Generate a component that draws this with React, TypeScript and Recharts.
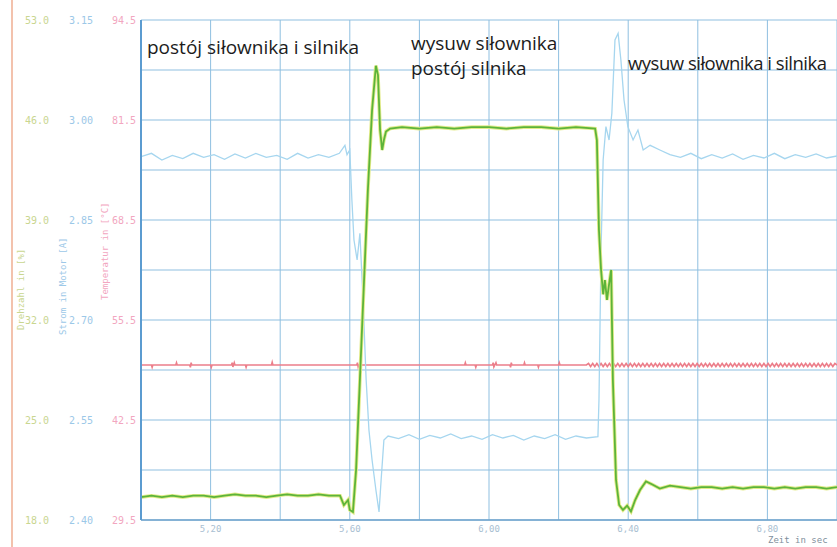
import React from "react";
import {
  LineChart,
  Line,
  XAxis,
  YAxis,
  CartesianGrid,
} from "recharts";

// czas [s] i prędkość silnika (zielona)
const speedPoints: [number, number][] = [
  [5.0, 19.6], [5.03, 19.7], [5.06, 19.6], [5.09, 19.7], [5.12, 19.6], [5.15, 19.7],
  [5.18, 19.7], [5.21, 19.6], [5.24, 19.7], [5.27, 19.8], [5.3, 19.7], [5.33, 19.7],
  [5.36, 19.6], [5.39, 19.7], [5.42, 19.8], [5.45, 19.7], [5.48, 19.7], [5.51, 19.8],
  [5.54, 19.7], [5.572, 19.7], [5.583, 19.05], [5.595, 19.4], [5.6, 18.7], [5.609, 18.56],
  [5.618, 21.5], [5.629, 27.8], [5.641, 34.8], [5.652, 41.1], [5.664, 46.7], [5.675, 49.8],
  [5.681, 49.15], [5.687, 45.3], [5.693, 43.9], [5.698, 44.6], [5.704, 45.2], [5.716, 45.4],
  [5.75, 45.5], [5.8, 45.4], [5.85, 45.5], [5.9, 45.4], [5.95, 45.5], [6.0, 45.5],
  [6.05, 45.4], [6.1, 45.5], [6.15, 45.5], [6.2, 45.4], [6.25, 45.5], [6.305, 45.4],
  [6.31, 44.6], [6.316, 38.3], [6.322, 35.5], [6.328, 33.8], [6.333, 34.8], [6.339, 33.4],
  [6.345, 34.5], [6.351, 35.5], [6.356, 27.8], [6.365, 20.8], [6.374, 19.05], [6.385, 18.7],
  [6.397, 19.0], [6.408, 18.6], [6.42, 19.4], [6.434, 20.1], [6.451, 20.7], [6.468, 20.5],
  [6.491, 20.2], [6.52, 20.4], [6.55, 20.3], [6.58, 20.2], [6.61, 20.3], [6.64, 20.3],
  [6.67, 20.2], [6.7, 20.3], [6.73, 20.2], [6.76, 20.3], [6.79, 20.3], [6.82, 20.2],
  [6.85, 20.3], [6.88, 20.2], [6.91, 20.3], [6.94, 20.3], [6.97, 20.2], [7.0, 20.3],
];

// prąd (niebieska)
const currentPoints: [number, number][] = [
  [5.0, 2.945], [5.03, 2.95], [5.06, 2.94], [5.09, 2.947], [5.12, 2.942], [5.15, 2.95],
  [5.18, 2.944], [5.21, 2.948], [5.24, 2.941], [5.27, 2.949], [5.3, 2.943], [5.33, 2.95],
  [5.36, 2.944], [5.39, 2.947], [5.42, 2.941], [5.45, 2.95], [5.48, 2.943], [5.51, 2.948],
  [5.54, 2.944], [5.57, 2.95], [5.586, 2.962], [5.592, 2.948], [5.6, 2.955], [5.606, 2.88],
  [5.612, 2.82], [5.621, 2.79], [5.629, 2.83], [5.638, 2.73], [5.647, 2.61], [5.655, 2.535],
  [5.664, 2.49], [5.675, 2.445], [5.684, 2.412], [5.69, 2.46], [5.698, 2.52], [5.71, 2.526],
  [5.74, 2.522], [5.77, 2.528], [5.8, 2.521], [5.83, 2.527], [5.86, 2.523], [5.89, 2.529],
  [5.92, 2.522], [5.95, 2.526], [5.98, 2.521], [6.01, 2.528], [6.04, 2.523], [6.07, 2.527],
  [6.1, 2.52], [6.13, 2.526], [6.16, 2.522], [6.19, 2.528], [6.22, 2.521], [6.25, 2.526],
  [6.28, 2.523], [6.313, 2.525], [6.316, 2.58], [6.322, 2.805], [6.328, 2.94], [6.336, 2.99],
  [6.345, 2.97], [6.353, 3.01], [6.362, 3.12], [6.371, 3.13], [6.379, 3.09], [6.388, 3.03],
  [6.399, 2.99], [6.414, 2.97], [6.428, 2.985], [6.443, 2.955], [6.463, 2.962], [6.491, 2.955],
  [6.52, 2.948], [6.55, 2.944], [6.58, 2.95], [6.61, 2.942], [6.64, 2.948], [6.67, 2.943],
  [6.7, 2.949], [6.73, 2.941], [6.76, 2.947], [6.79, 2.943], [6.82, 2.95], [6.85, 2.942],
  [6.88, 2.948], [6.91, 2.944], [6.94, 2.949], [6.97, 2.943], [7.0, 2.946],
];

// temperatura (czerwona)
const tempPoints: [number, number][] = [
  [5.0, 49.65], [5.03, 49.65], [5.032, 49.35], [5.034, 49.65], [5.1, 49.65], [5.102, 49.95],
  [5.104, 49.65], [5.14, 49.65], [5.142, 49.35], [5.144, 49.95], [5.146, 49.65], [5.2, 49.65],
  [5.202, 49.35], [5.204, 49.65], [5.26, 49.65], [5.262, 49.95], [5.264, 49.4], [5.268, 49.95],
  [5.27, 49.65], [5.3, 49.65], [5.302, 49.35], [5.304, 49.65], [5.375, 49.65], [5.377, 50.0],
  [5.379, 49.65], [5.62, 49.65], [5.622, 49.95], [5.624, 49.4], [5.626, 49.65], [5.93, 49.65],
  [5.932, 49.95], [5.934, 49.65], [5.96, 49.65], [5.962, 49.35], [5.964, 49.65], [6.01, 49.65],
  [6.012, 49.95], [6.014, 49.4], [6.02, 49.95], [6.022, 49.65], [6.06, 49.65], [6.062, 49.35],
  [6.064, 49.95], [6.066, 49.65], [6.1, 49.65], [6.102, 49.95], [6.104, 49.65], [6.14, 49.65],
  [6.142, 49.35], [6.144, 49.65], [6.2, 49.65], [6.202, 49.95], [6.204, 49.65], [6.28, 49.65],
  [6.286, 49.85], [6.292, 49.45], [6.298, 49.85], [6.304, 49.45], [6.31, 49.85], [6.316, 49.45],
  [6.322, 49.85], [6.328, 49.45], [6.334, 49.85], [6.34, 49.45], [6.346, 49.85], [6.352, 49.45],
  [6.358, 49.85], [6.364, 49.45], [6.37, 49.85], [6.376, 49.45], [6.382, 49.85], [6.388, 49.45],
  [6.394, 49.85], [6.4, 49.45], [6.406, 49.85], [6.412, 49.45], [6.418, 49.85], [6.424, 49.45],
  [6.43, 49.85], [6.436, 49.45], [6.442, 49.85], [6.448, 49.45], [6.454, 49.85], [6.46, 49.45],
  [6.466, 49.85], [6.472, 49.45], [6.478, 49.85], [6.484, 49.45], [6.49, 49.85], [6.496, 49.45],
  [6.502, 49.85], [6.508, 49.45], [6.514, 49.85], [6.52, 49.45], [6.526, 49.85], [6.532, 49.45],
  [6.538, 49.85], [6.544, 49.45], [6.55, 49.85], [6.556, 49.45], [6.562, 49.85], [6.568, 49.45],
  [6.574, 49.85], [6.58, 49.45], [6.586, 49.85], [6.592, 49.45], [6.598, 49.85], [6.604, 49.45],
  [6.61, 49.85], [6.616, 49.45], [6.622, 49.85], [6.628, 49.45], [6.634, 49.85], [6.64, 49.45],
  [6.646, 49.85], [6.652, 49.45], [6.658, 49.85], [6.664, 49.45], [6.67, 49.85], [6.676, 49.45],
  [6.682, 49.85], [6.688, 49.45], [6.694, 49.85], [6.7, 49.45], [6.706, 49.85], [6.712, 49.45],
  [6.718, 49.85], [6.724, 49.45], [6.73, 49.85], [6.736, 49.45], [6.742, 49.85], [6.748, 49.45],
  [6.754, 49.85], [6.76, 49.45], [6.766, 49.85], [6.772, 49.45], [6.778, 49.85], [6.784, 49.45],
  [6.79, 49.85], [6.796, 49.45], [6.802, 49.85], [6.808, 49.45], [6.814, 49.85], [6.82, 49.45],
  [6.826, 49.85], [6.832, 49.45], [6.838, 49.85], [6.844, 49.45], [6.85, 49.85], [6.856, 49.45],
  [6.862, 49.85], [6.868, 49.45], [6.874, 49.85], [6.88, 49.45], [6.886, 49.85], [6.892, 49.45],
  [6.898, 49.85], [6.904, 49.45], [6.91, 49.85], [6.916, 49.45], [6.922, 49.85], [6.928, 49.45],
  [6.934, 49.85], [6.94, 49.45], [6.946, 49.85], [6.952, 49.45], [6.958, 49.85], [6.964, 49.45],
  [6.97, 49.85], [6.976, 49.45], [6.982, 49.85], [6.988, 49.45], [6.994, 49.85], [7.0, 49.65],
];

const timeTicks = [5.0, 5.2, 5.4, 5.6, 5.8, 6.0, 6.2, 6.4, 6.6, 6.8, 7.0];
const timeLabels = ["", "5,20", "", "5,60", "", "6,00", "", "6,40", "", "6,80", ""];
const speedTicks = [18, 21.5, 25, 28.5, 32, 35.5, 39, 42.5, 46, 49.5, 53];
const currentTicks = [2.4, 2.55, 2.7, 2.85, 3.0, 3.15];
const tempTicks = [29.5, 42.5, 55.5, 68.5, 81.5, 94.5];

const toData = (pts: [number, number][]) => pts.map(([t, v]) => ({ t, v }));

const mono = "'DejaVu Sans Mono', monospace";
const gridBlue = "#8fbfe0";

// osie Y po lewej: Recharts układa je alfabetycznie od wykresu na zewnątrz
const RED = "a_temp";
const BLUE = "b_current";
const GREEN = "c_speed";

const App = () => {
  const speedData = toData(speedPoints);
  const currentData = toData(currentPoints);
  const tempData = toData(tempPoints);

  const note: React.CSSProperties = {
    position: "absolute",
    fontFamily: "'Open Sans', sans-serif",
    fontSize: 19,
    color: "#1c1c1c",
    whiteSpace: "nowrap",
    lineHeight: "25px",
  };
  const axisTitle: React.CSSProperties = {
    position: "absolute",
    fontFamily: mono,
    fontSize: 9,
    whiteSpace: "nowrap",
    transform: "rotate(-90deg)",
    transformOrigin: "left top",
  };

  return (
    <div
      style={{
        position: "absolute",
        left: 0,
        top: 0,
        width: 837,
        height: 547,
        background: "#fff",
        overflow: "hidden",
      }}
    >
      {/* pionowa linia po lewej */}
      <div style={{ position: "absolute", left: 11, top: 0, width: 2, height: 547, background: "#f3c2ad" }} />
      <LineChart
        width={837}
        height={547}
        margin={{ top: 20, right: 0, bottom: 0, left: 0 }}
      >
        <CartesianGrid yAxisId={GREEN} stroke={gridBlue} strokeWidth={1} />
        <XAxis
          dataKey="t"
          type="number"
          domain={[5, 7]}
          ticks={timeTicks}
          allowDataOverflow
          height={27}
          tickLine={false}
          stroke="#6fa3cc"
          strokeWidth={1.5}
          tickFormatter={(v: number) => timeLabels[timeTicks.findIndex((x) => Math.abs(x - v) < 1e-6)] ?? ""}
          tick={{ fontSize: 9, fontFamily: mono, fill: "#a9c0d2" }}
          tickMargin={0}
        />
        <YAxis
          yAxisId={RED}
          domain={[29.5, 94.5]}
          ticks={tempTicks}
          width={46}
          tickSize={0}
          tickMargin={5}
          tickLine={false}
          stroke="#5b9bd0"
          strokeWidth={2}
          tickFormatter={(v: number) => v.toFixed(1)}
          tick={{ fontSize: 10, fontFamily: mono, fill: "#f2a6c0" }}
        />
        <YAxis
          yAxisId={BLUE}
          domain={[2.4, 3.15]}
          ticks={currentTicks}
          width={44}
          tickSize={0}
          tickMargin={2}
          tickLine={false}
          axisLine={false}
          tickFormatter={(v: number) => v.toFixed(2)}
          tick={{ fontSize: 10, fontFamily: mono, fill: "#9cc8e8" }}
        />
        <YAxis
          yAxisId={GREEN}
          domain={[18, 53]}
          ticks={speedTicks}
          width={51}
          tickSize={0}
          tickMargin={2}
          tickLine={false}
          axisLine={false}
          tickFormatter={(v: number) =>
            Math.abs((v - 18) / 7 - Math.round((v - 18) / 7)) < 1e-6 ? v.toFixed(1) : ""
          }
          tick={{ fontSize: 10, fontFamily: mono, fill: "#c9d690" }}
        />
        <Line
          data={tempData}
          yAxisId={RED}
          dataKey="v"
          type="linear"
          stroke="#ec7e8a"
          strokeWidth={1.6}
          dot={false}
          isAnimationActive={false}
        />
        <Line
          data={currentData}
          yAxisId={BLUE}
          dataKey="v"
          type="linear"
          stroke="#a6d6ef"
          strokeWidth={1.3}
          dot={false}
          isAnimationActive={false}
        />
        <Line
          data={speedData}
          yAxisId={GREEN}
          dataKey="v"
          type="linear"
          stroke="#e2eb8a"
          strokeWidth={3.6}
          dot={false}
          isAnimationActive={false}
        />
        <Line
          data={speedData}
          yAxisId={GREEN}
          dataKey="v"
          type="linear"
          stroke="#5cb43a"
          strokeWidth={1.8}
          dot={false}
          isAnimationActive={false}
        />
      </LineChart>

      <div style={{ ...note, left: 147, top: 35 }}>postój siłownika i silnika</div>
      <div style={{ ...note, left: 411, top: 31 }}>wysuw siłownika</div>
      <div style={{ ...note, left: 411, top: 56 }}>postój silnika</div>
      <div style={{ ...note, left: 628, top: 50, fontSize: 18.5, letterSpacing: -0.5 }}>
        wysuw siłownika i silnika
      </div>

      <div style={{ ...axisTitle, left: 16, top: 330, color: "#c9d690" }}>Drehzahl in [%]</div>
      <div style={{ ...axisTitle, left: 58, top: 335, color: "#9cc8e8" }}>Strom in Motor [A]</div>
      <div style={{ ...axisTitle, left: 100, top: 300, color: "#f2a6c0" }}>Temperatur in [°C]</div>

      <div
        style={{
          position: "absolute",
          left: 768,
          top: 535,
          fontFamily: mono,
          fontSize: 9,
          color: "#7f8f9c",
          whiteSpace: "nowrap",
        }}
      >
        Zeit in sec
      </div>
    </div>
  );
};

export default App;
